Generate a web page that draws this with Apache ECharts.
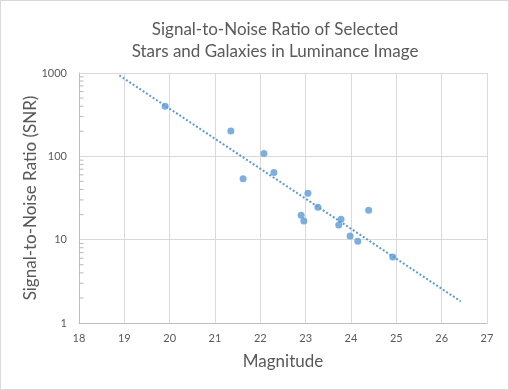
<!DOCTYPE html>
<html>
<head>
<meta charset="utf-8">
<script src="https://cdn.jsdelivr.net/npm/echarts@6/dist/echarts.min.js"></script>
<style>
html,body{margin:0;padding:0;background:#fff;}
#c{width:509px;height:390px;box-sizing:border-box;border:1px solid #d9d9d9;}
</style>
</head>
<body>
<div id="c"></div>
<script>
// Data
var magnitude = [19.9, 21.35, 22.08, 21.62, 22.30, 23.05, 23.27, 22.90, 22.96, 23.78, 23.73, 24.39, 23.98, 24.15, 24.92];
var snr       = [400, 202, 108, 54, 64, 36, 24.5, 19.7, 16.7, 17.6, 15.0, 22.6, 11.1, 9.6, 6.2];
// Exponential trend line end points (with forecast)
var trendMag = [18.89, 26.42];
var trendSnr = [935, 1.82];
// Minor tick values on the log y axis
var minorTickValues = [2,3,4,5,6,7,8,9,20,30,40,50,60,70,80,90,200,300,400,500,600,700,800,900];

var FONT = 'Lato';
var TXT = '#595959';

var chart = echarts.init(document.getElementById('c'), null, {renderer: 'canvas'});
var option = {
  animation: false,
  backgroundColor: '#ffffff',
  title: {
    text: 'Signal-to-Noise Ratio of Selected\nStars and Galaxies in Luminance Image',
    left: 269, top: 13, textAlign: 'center',
    textStyle: {fontFamily: FONT, fontSize: 17, fontWeight: 'normal', color: TXT, lineHeight: 22}
  },
  grid: {left: 78, right: 21, top: 72, bottom: 66, containLabel: false},
  xAxis: {
    type: 'value', min: 18, max: 27, interval: 1,
    name: 'Magnitude', nameLocation: 'middle', nameGap: 30,
    nameTextStyle: {fontFamily: FONT, fontSize: 17, color: TXT},
    axisLine: {show: true, lineStyle: {color: '#bfbfbf', width: 1}},
    axisTick: {show: false},
    axisLabel: {fontFamily: FONT, fontSize: 11, color: TXT, margin: 10},
    splitLine: {show: true, lineStyle: {color: '#d9d9d9', width: 1}}
  },
  yAxis: {
    type: 'log', logBase: 10, min: 1, max: 1000,
    name: 'Signal-to-Noise Ratio (SNR)', nameLocation: 'middle', nameGap: 40,
    nameMoveOverlap: false,
    nameTextStyle: {fontFamily: FONT, fontSize: 17, color: TXT},
    axisLine: {show: true, lineStyle: {color: '#bfbfbf', width: 1}},
    axisTick: {show: false},
    axisLabel: {fontFamily: FONT, fontSize: 11, color: TXT, margin: 12,
      formatter: function (v) { return String(Math.round(v)); }},
    splitLine: {show: true, lineStyle: {color: '#d9d9d9', width: 1}}
  },
  series: [
    {
      type: 'scatter',
      silent: true,
      clip: false,
      data: minorTickValues.map(function (v) { return [18, v]; }),
      symbol: 'rect',
      symbolSize: [4, 1],
      symbolOffset: [2.5, 0],
      itemStyle: {color: '#a6a6a6'},
      z: 5
    },
    {
      type: 'line',
      data: trendMag.map(function (m, i) { return [m, trendSnr[i]]; }),
      showSymbol: false,
      symbol: 'none',
      lineStyle: {color: '#5b9bd5', width: 2, type: [2, 2], cap: 'butt'},
      z: 2
    },
    {
      type: 'scatter',
      data: magnitude.map(function (m, i) { return [m, snr[i]]; }),
      symbol: 'circle', symbolSize: 7,
      itemStyle: {color: '#5b9bd5'},
      z: 3
    }
  ]
};
chart.setOption(option);
</script>
</body>
</html>
